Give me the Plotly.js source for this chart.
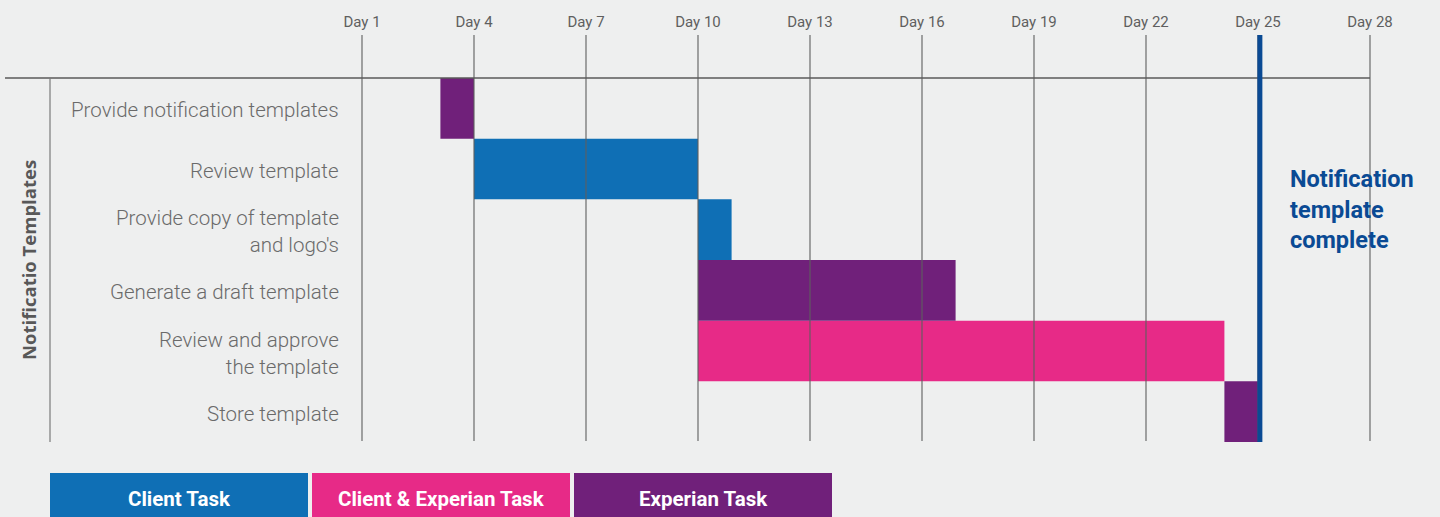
<!DOCTYPE html>
<html>
<head>
<meta charset="utf-8">
<script src="https://cdn.plot.ly/plotly-3.0.1.min.js"></script>
<style>
  html, body { margin: 0; padding: 0; background: #eeefef; }
  #chart { width: 1440px; height: 517px; }
</style>
</head>
<body>
<div id="chart"></div>
<script>
// ---------- data ----------
const dayTicks = [1, 4, 7, 10, 13, 16, 19, 22, 25, 28];
const dayTickLabels = ['Day 1', 'Day 4', 'Day 7', 'Day 10', 'Day 13', 'Day 16', 'Day 19', 'Day 22', 'Day 25', 'Day 28'];

const tasks = [
  'Provide notification templates',
  'Review template',
  "Provide copy of template<br>and logo's",
  'Generate a draft template',
  'Review and approve<br>the template',
  'Store template'
];
const startDay = [3.1, 4, 10, 10, 10, 24.1];
const endDay   = [4, 10, 10.9, 16.9, 24.1, 25];
const taskType = ['Experian Task', 'Client Task', 'Client Task', 'Experian Task', 'Client & Experian Task', 'Experian Task'];

const typeNames  = ['Client Task', 'Client & Experian Task', 'Experian Task'];
const typeColors = ['#0f6fb5', '#e72a87', '#70207a'];

const groupTitle = 'Notificatio Templates';
const milestoneDay = [25.05];
const milestoneText = 'Notification<br>template<br>complete';

// ---------- layout helpers (pixels -> paper) ----------
const W = 1440, H = 517;
const M = { l: 5, r: 60, t: 35, b: 75 };
const plotW = W - M.l - M.r, plotH = H - M.t - M.b;
const px2x = px => (px - M.l) / plotW;
const py2y = py => (H - M.b - py) / plotH;

// x range: Day 1 at 362px, 3 days = 112px
const pxPerDay = 112 / 3;
const xMin = 1 + (M.l - 362) / pxPerDay;
const xMax = 1 + (W - M.r - 362) / pxPerDay;

// ---------- traces ----------
const traces = typeNames.map((name, k) => {
  const idx = tasks.map((t, i) => i).filter(i => taskType[i] === name);
  return {
    type: 'bar',
    orientation: 'h',
    name: name,
    y: idx.map(i => tasks[i]),
    base: idx.map(i => startDay[i]),
    x: idx.map(i => endDay[i] - startDay[i]),
    width: 1,
    marker: { color: typeColors[k], line: { width: 0 } },
    showlegend: false,
    hoverinfo: 'skip'
  };
});

// ---------- shapes ----------
const shapes = [];
dayTicks.forEach(d => shapes.push({
  type: 'line', xref: 'x', yref: 'paper', x0: d, x1: d, y0: py2y(441), y1: 1,
  line: { color: 'rgba(95,95,95,0.85)', width: 1.3 }, layer: 'above'
}));
// top rule
shapes.push({ type: 'line', xref: 'paper', yref: 'y', x0: 0, x1: px2x(1370), y0: -0.5, y1: -0.5,
  line: { color: '#5a5a5a', width: 1.6 }, layer: 'above' });
// left rule
shapes.push({ type: 'line', xref: 'paper', yref: 'y', x0: px2x(50), x1: px2x(50), y0: -0.5, y1: 5.5,
  line: { color: '#7a7a7a', width: 1.2 }, layer: 'above' });
// milestone line
shapes.push({ type: 'line', xref: 'x', yref: 'paper', x0: milestoneDay[0], x1: milestoneDay[0], y0: 0, y1: 1,
  line: { color: '#0a4a94', width: 5 }, layer: 'above' });
// legend boxes
typeNames.forEach((n, k) => shapes.push({
  type: 'rect', xref: 'paper', yref: 'paper',
  x0: px2x(50 + k * 262), x1: px2x(308 + k * 262), y0: py2y(540), y1: py2y(473),
  fillcolor: typeColors[k], line: { width: 0 }, layer: 'above'
}));

// ---------- annotations ----------
const annotations = [];
tasks.forEach(t => annotations.push({
  xref: 'paper', yref: 'y', x: px2x(341), y: t, text: t, yshift: -2,
  xanchor: 'right', yanchor: 'middle', align: 'right', showarrow: false,
  font: { family: 'Roboto', size: 20.5, color: '#6a6a6a', weight: 300 }
}));
annotations.push({
  xref: 'paper', yref: 'paper', x: px2x(28), y: py2y(260), text: groupTitle,
  textangle: -90, xanchor: 'center', yanchor: 'middle', showarrow: false,
  font: { family: 'Open Sans', size: 18.5, color: '#585858', weight: 700 }
});
annotations.push({
  xref: 'paper', yref: 'paper', x: px2x(1288), y: py2y(209), text: milestoneText,
  xanchor: 'left', yanchor: 'middle', align: 'left', showarrow: false,
  font: { family: 'Roboto', size: 23.5, color: '#0a4a94', weight: 700 }
});
typeNames.forEach((n, k) => annotations.push({
  xref: 'paper', yref: 'paper', x: px2x(179 + k * 262), y: py2y(499), text: n,
  xanchor: 'center', yanchor: 'middle', showarrow: false,
  font: { family: 'Roboto', size: 20.5, color: '#ffffff', weight: 700 }
}));

const layout = {
  width: W, height: H,
  margin: M,
  paper_bgcolor: '#eeefef',
  plot_bgcolor: '#eeefef',
  barmode: 'overlay',
  showlegend: false,
  xaxis: {
    range: [xMin, xMax],
    side: 'top',
    tickvals: dayTicks,
    ticktext: dayTickLabels,
    ticks: '',
    ticklabelstandoff: 4,
    showgrid: false,
    zeroline: false,
    showline: false,
    tickfont: { family: 'Roboto', size: 15, color: '#5f5f5f' }
  },
  yaxis: {
    type: 'category',
    categoryorder: 'array',
    categoryarray: tasks,
    range: [5.5, -0.5 - 43 / (364 / 6)],
    showgrid: false,
    zeroline: false,
    showline: false,
    showticklabels: false,
    ticks: ''
  },
  shapes: shapes,
  annotations: annotations
};

Plotly.newPlot('chart', traces, layout, { displayModeBar: false, staticPlot: true });
</script>
</body>
</html>
